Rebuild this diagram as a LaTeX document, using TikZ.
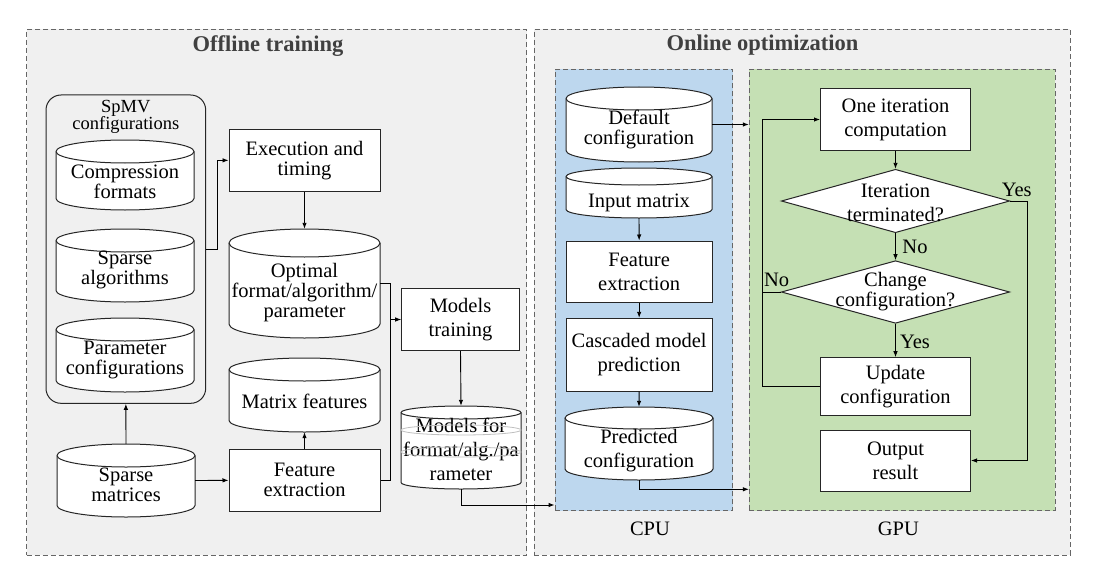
\documentclass[tikz,border=0pt]{standalone}
\usepackage{fontspec}
\setmainfont{Liberation Serif}
\usetikzlibrary{shapes.geometric,arrows.meta,calc}
\definecolor{bggray}{HTML}{F0F0F0}
\definecolor{cpublue}{HTML}{BDD7EE}
\definecolor{gpugreen}{HTML}{C5E0B4}
\definecolor{titlegray}{HTML}{404040}
\tikzset{
  panel/.style={draw=black!60, dash pattern=on 5pt off 3pt, line width=0.9pt, inner sep=0pt},
  box/.style={draw=black!85, fill=white, line width=1pt, inner sep=0pt},
  cyl/.style={draw=black!85, fill=white, line width=1pt},
  txt/.style={font=\fontsize{20.5}{20}\selectfont, align=center, inner sep=0pt},
  txtw/.style={font=\fontsize{20.5}{24}\selectfont, align=center, inner sep=0pt},
  ttl/.style={font=\fontsize{22.5}{24}\selectfont\bfseries, text=titlegray, inner sep=0pt},
  arr/.style={-{Latex[length=6pt,width=4.5pt]}, line width=0.9pt},
  conn/.style={line width=0.9pt},
}
% #1 name, #2 L, #3 T, #4 R, #5 B, #6 ry, #7 text y, #8 text style, #9 text
\newcommand\mycyl[9]{%
  \pgfmathsetmacro\myrx{(#4-#2)/2}%
  \pgfmathsetmacro\mycx{(#4+#2)/2}%
  \pgfmathsetmacro\mycy{(#3+#5)/2}%
  \pgfmathsetmacro\myw{#4-#2}%
  \pgfmathsetmacro\myh{#5-#3}%
  \draw[cyl] (#2,#3+#6) -- (#2,#5-#6) arc[start angle=180,end angle=0,x radius=\myrx,y radius=#6]
     -- (#4,#3+#6) arc[start angle=0,end angle=-180,x radius=\myrx,y radius=#6] -- cycle;
  \draw[cyl,fill=none] (#2,#3+#6) arc[start angle=180,end angle=0,x radius=\myrx,y radius=#6];
  \node[inner sep=0pt, minimum width=\myw pt, minimum height=\myh pt] (#1) at (\mycx,\mycy) {};
  \node[#8] (#1-t) at (\mycx,#7) {#9};
}
\begin{document}
\begin{tikzpicture}[x=1pt,y=-1pt]
\useasboundingbox (0,0) rectangle (1099,567);
% panels
\node[panel, fill=bggray, minimum width=500pt, minimum height=525.7pt] (off) at (276.7,292.15) {};
\node[panel, fill=bggray, minimum width=536pt, minimum height=525.7pt] (on) at (802,292.15) {};
\node[panel, fill=cpublue, minimum width=177.7pt, minimum height=441.4pt] (cpu) at (643.85,290) {};
\node[panel, fill=gpugreen, minimum width=305.7pt, minimum height=441.4pt] (gpu) at (902.15,290) {};
\node[ttl] (offt) at (268,46.5) {Offline training};
\node[ttl] (ont) at (762.5,45) {Online optimization};
\node[txt] (cpul) at (650,529.3) {CPU};
\node[txt] (gpul) at (898.3,529.3) {GPU};

% offline
\node[draw=black!85, line width=1pt, rounded corners=15pt, minimum width=159.7pt, minimum height=308.3pt, inner sep=0pt] (spmv) at (125.85,249.15) {};
\node[font=\fontsize{18.5}{17}\selectfont, align=center, inner sep=0pt] (spmvt) at (125.85,116.5) {SpMV\\configurations};
\mycyl{comp}{56}{140}{194}{210}{11.5}{181.7}{txt}{Compression\\formats}
\mycyl{alg}{56}{229}{194}{302}{11.5}{270}{txt}{Sparse\\algorithms}
\mycyl{par}{56}{318}{194}{392}{11.5}{359.5}{txt}{Parameter\\configurations}
\mycyl{smat}{57}{444}{195}{517}{11.5}{484.7}{txt}{Sparse\\matrices}
\mycyl{opt}{229}{229}{380}{338}{14}{292.5}{txt}{Optimal\\format/algorithm/\\parameter}
\mycyl{mfeat}{229}{358}{380}{432}{11.5}{401.7}{txt}{Matrix features}
\mycyl{modf}{401}{406}{521}{489}{6.5}{449}{txtw}{Models for\\format/alg./pa\\rameter}
\draw[black!25, line width=0.8pt] (461,430) ellipse[x radius=60, y radius=5];
\draw[black!25, line width=0.8pt] (461,452) ellipse[x radius=60, y radius=5];
\node[box, txt, minimum width=151pt, minimum height=62.7pt] (exec) at (304.5,160.35) {Execution and\\timing};
\node[box, txt, minimum width=151pt, minimum height=62.7pt] (fext) at (304.5,480.35) {Feature\\extraction};
\node[box, txtw, minimum width=117.6pt, minimum height=62.4pt] (mt) at (460.5,319.5) {Models\\training};

% CPU
\mycyl{defc}{566}{87}{712}{162}{11.5}{129}{txt}{Default\\configuration}
\mycyl{inm}{566}{168}{712}{218}{8.5}{203.3}{txt}{Input matrix}
\node[box, txtw, minimum width=146.3pt, minimum height=61.7pt] (fe2) at (639.15,271.85) {Feature\\extraction};
\node[box, txtw, minimum width=146.3pt, minimum height=72.7pt] (casc) at (639.15,354.65) {Cascaded model\\prediction};
\mycyl{pred}{565}{407}{713}{480}{11}{450.3}{txtw}{Predicted\\configuration}

% GPU
\node[box, txtw, minimum width=150pt, minimum height=61pt] (oic) at (895.5,119.5) {One iteration\\computation};
\node[box, diamond, minimum width=228.3pt, minimum height=63.4pt] (d1) at (895.5,201) {};
\node[txtw] (d1t) at (895.5,202.7) {Iteration\\terminated?};
\node[box, diamond, minimum width=228.3pt, minimum height=62.6pt] (d2) at (895.5,292) {};
\node[txt] (d2t) at (895.5,291.5) {Change\\configuration?};
\node[box, txtw, minimum width=150pt, minimum height=57.3pt] (upd) at (895.5,386.35) {Update\\configuration};
\node[box, txtw, minimum width=150pt, minimum height=61pt] (out) at (895.5,460.5) {Output\\result};
\node[txt] (lno1) at (915,246.7) {No};
\node[txt] (lyes2) at (915,341.7) {Yes};
\node[txt] (lyes1) at (1016.7,190) {Yes};
\node[txt] (lno2) at (776.7,280) {No};

% connectors offline
\draw[arr] (spmv.east) -- ++(11.3,0) |- (exec.west);
\draw[arr] (exec.south) -- (opt.north);
\draw[arr] (smat.north) -- (spmv.south);
\draw[arr] (smat.east) -- (fext.west);
\draw[arr] (fext.north) -- (mfeat.south);
\coordinate (jn) at (390.7,319.5);
\draw[arr] (fext.east) -| (jn) -- (mt.west);
\draw[conn] (opt.east) -| (jn);
\draw[arr] (mt.south) -- (modf.north);
\coordinate (y505) at (0,505);
\draw[arr] (modf.south) |- (cpu.west |- y505);

% connectors CPU
\draw[arr] (defc.east) -- (defc.east -| gpu.west);
\draw[arr] (inm.south) -- (fe2.north);
\draw[arr] (fe2.south) -- (casc.north);
\draw[arr] (casc.south) -- (pred.north);
\coordinate (y489) at (0,489.3);
\draw[arr] (pred.south) |- (gpu.west |- y489);

% connectors GPU
\draw[arr] (oic.south) -- (d1.north);
\draw[arr] (d1.south) -- (d2.north);
\draw[arr] (d2.south) -- (upd.north);
\coordinate (rx) at (1027.7,201);
\draw[arr] (d1.east) -- (rx) |- (out.east);
\coordinate (lp) at (762.3,386.35);
\draw[arr] (upd.west) -- (lp) |- (oic.west);
\draw[conn] (d2.west) -- (d2.west -| lp);
\end{tikzpicture}
\end{document}
